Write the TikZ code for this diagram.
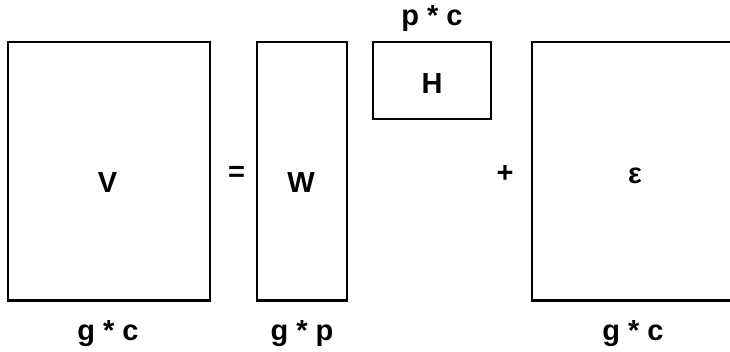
\documentclass[tikz,border=0pt]{standalone}
\usepackage{fontspec}
\setmainfont{Liberation Sans}
\begin{document}
\begin{tikzpicture}[x=1pt,y=-1pt,
    every node/.style={font=\bfseries\fontsize{29}{32}\selectfont,inner sep=0pt,anchor=base}]

        \clip (0,0) rectangle (730,351);

        \begin{scope}[every node/.style={rectangle,draw,line width=2.2pt,inner sep=0pt}]
          \node (Vbox) at (109,171.2)   [minimum width=202.5pt,minimum height=258.5pt] {};
          \node (Wbox) at (302,171.2)   [minimum width=90pt,minimum height=258.5pt] {};
          \node (Hbox) at (432,80.7)    [minimum width=117.4pt,minimum height=77.3pt] {};
          \node (Ebox) at (637.3,171.2) [minimum width=210pt,minimum height=258.5pt] {};
        \end{scope}

        \node (V)   at (107.5,192) {V};
        \node (eq)  at (236.7,181) {=};
        \node (W)   at (301,192)   {W};
        \node (H)   at (432,93)    {H};
        \node (pl)  at (505,182)   {+};
        \node (E)   at (635,183)   {ε};

        \node (gc1) at (108,340) {g * c};
        \node (gp)  at (302,340) {g * p};
        \node (pc)  at (432,25)  {p * c};
        \node (gc2) at (633,340) {g * c};

      \end{tikzpicture}
\end{document}
